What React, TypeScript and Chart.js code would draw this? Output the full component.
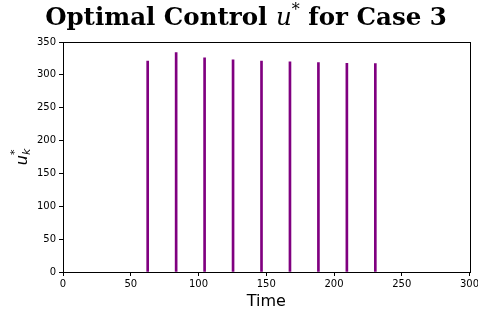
import React, { useEffect, useRef } from "react";
import { Chart, registerables } from "chart.js";

Chart.register(...registerables);

const spikeTimes = [62.5, 83.5, 104.5, 125.5, 146.5, 167.5, 188.5, 209.5, 230.5];
const spikeValues = [321, 334, 326, 323, 321, 320, 318.5, 317.5, 317];
const xTickStep = 50;
const yTickStep = 50;
const titleParts = ["Optimal Control ", "u", "*", " for Case 3"];
const xLabel = "Time";

const frameAndLabels = {
  id: "frameAndLabels",
  afterDraw(chart: any) {
    const { ctx, chartArea } = chart;
    ctx.save();
    ctx.strokeStyle = "#000";
    ctx.lineWidth = 1;
    ctx.strokeRect(
      Math.round(chartArea.left) + 0.5,
      Math.round(chartArea.top) + 0.5,
      Math.round(chartArea.right - chartArea.left),
      Math.round(chartArea.bottom - chartArea.top)
    );
    const boldF = "bold 24.5px 'DejaVu Serif'";
    const itF = "italic 24.5px 'DejaVu Serif'";
    const supF = "16px 'DejaVu Serif'";
    ctx.fillStyle = "#000";
    ctx.textBaseline = "alphabetic";
    ctx.textAlign = "left";
    const fonts = [boldF, itF, supF, boldF];
    const widths = titleParts.map((t, i) => {
      ctx.font = fonts[i];
      return ctx.measureText(t).width;
    });
    const total = widths.reduce((a, b) => a + b, 0);
    let x = 246 - total / 2;
    const base = 25;
    titleParts.forEach((t, i) => {
      ctx.font = fonts[i];
      const y = i === 2 ? base - 10 : base;
      ctx.fillText(t, x, y);
      x += widths[i];
    });
    ctx.translate(27, 157);
    ctx.rotate(-Math.PI / 2);
    ctx.font = "oblique 16px 'DejaVu Sans'";
    const uw = ctx.measureText("u").width;
    ctx.font = "oblique 11px 'DejaVu Sans'";
    const kw = ctx.measureText("k").width;
    const tw = uw + kw;
    let lx = -tw / 2;
    ctx.font = "oblique 16px 'DejaVu Sans'";
    ctx.fillText("u", lx, 0);
    lx += uw;
    ctx.font = "oblique 11px 'DejaVu Sans'";
    ctx.fillText("k", lx, 3);
    ctx.font = "11px 'DejaVu Sans'";
    ctx.fillText("*", lx, -9);
    ctx.restore();
  },
};

export default function App() {
  const ref = useRef<HTMLCanvasElement>(null);
  useEffect(() => {
    document.body.style.margin = "0";
    const data = spikeTimes.map((t, i) => ({ x: t, y: spikeValues[i] }));
    const chart = new Chart(ref.current!, {
      type: "bar",
      data: {
        datasets: [
          {
            data: data as any,
            backgroundColor: "#800080",
            borderWidth: 0,
            barThickness: 2,
          },
        ],
      },
      options: {
        responsive: false,
        animation: false,
        devicePixelRatio: 1,
        layout: { padding: { top: 42, right: 8.5, left: 0, bottom: 0 } },
        plugins: { legend: { display: false }, tooltip: { enabled: false }, title: { display: false } },
        scales: {
          x: {
            type: "linear",
            min: 0,
            max: 300,
            offset: false,
            afterFit: (s: any) => {
              s.height = 46;
              s.paddingLeft = 0;
              s.paddingRight = 0;
            },
            grid: { display: true, drawOnChartArea: false, drawTicks: true, tickLength: 4, color: "#000", offset: false },
            border: { display: true, color: "#000", width: 1 },
            ticks: { stepSize: xTickStep, color: "#000", font: { family: "'DejaVu Sans'", size: 10 }, padding: 2, maxRotation: 0, autoSkip: false },
            title: { display: true, text: xLabel, color: "#000", font: { family: "'DejaVu Sans'", size: 16 }, padding: { top: 0, bottom: 7 } },
          },
          y: {
            min: 0,
            max: 350,
            afterFit: (s: any) => {
              s.width = 63;
              s.paddingTop = 0;
              s.paddingBottom = 0;
            },
            grid: { display: true, drawOnChartArea: false, drawTicks: true, tickLength: 4, color: "#000" },
            border: { display: true, color: "#000", width: 1 },
            ticks: { stepSize: yTickStep, color: "#000", font: { family: "'DejaVu Sans'", size: 10 }, padding: 3, autoSkip: false },
          },
        },
      },
      plugins: [frameAndLabels],
    });
    return () => chart.destroy();
  }, []);
  return <canvas ref={ref} width={478} height={318} style={{ display: "block" }} />;
}
